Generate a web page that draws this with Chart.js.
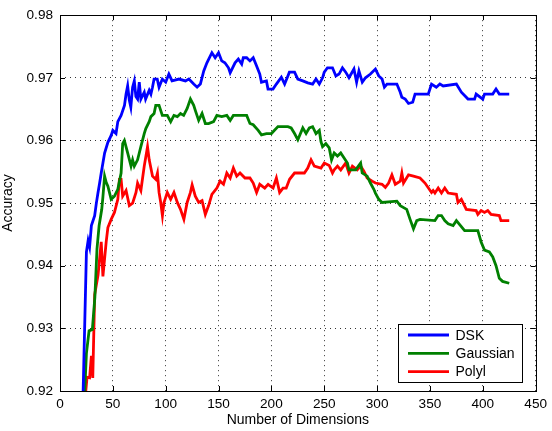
<!DOCTYPE html>
<html>
<head>
<meta charset="utf-8">
<script src="https://cdn.jsdelivr.net/npm/chart.js@4/dist/chart.umd.min.js"></script>
<style>
  html, body { margin: 0; padding: 0; background: #fff; }
  #wrap { width: 552px; height: 431px; }
</style>
</head>
<body>
<div id="wrap"><canvas id="accChart" width="552" height="431"></canvas></div>
<script>
// series labels
const seriesNames = ['DSK', 'Gaussian', 'Polyl'];

// DSK
const dskDims = [21.9, 23.4, 25, 26.6, 28, 29.7, 32.8, 34.4, 35.9, 37.5, 39, 40.6, 42.2, 45.3, 48.4, 50, 53, 54.7, 57.8, 61,
  62.5, 64, 65.6, 67, 68.7, 70.3, 71.8, 73.4, 75, 76.5, 79.7, 81, 84.4, 86, 87.5, 89, 92, 93.7, 96.8, 100,
  103, 106, 112.5, 118.7, 121.9, 126.5, 129.7, 132.8, 136, 139, 143.7, 146.8, 150, 153, 156, 159.4, 161, 165.6, 168.7, 171.9,
  173.4, 176.6, 179.7, 182.8, 186, 189, 190.6, 195.3, 196.8, 201.5, 204.7, 209.4, 212.5, 215.6, 217, 221.9, 225, 229.7, 234.4, 239,
  242.2, 245.3, 248.4, 250, 253, 257.8, 261, 264, 267.2, 270.3, 273.4, 278.1, 280.6, 282.8, 286, 289, 293.7, 298.4, 301.6, 304.7,
  306.9, 309.4, 318.7, 321.9, 323.4, 326.6, 329.7, 333.7, 335.9, 348.4, 351.5, 356, 359.4, 362.5, 375, 379.7, 386, 392.2, 393.7, 400,
  401.6, 409.4, 412.5, 415.6, 425];
const dskAcc = [0.920, 0.9307, 0.9422, 0.944, 0.943, 0.9464, 0.948, 0.950, 0.9516, 0.9532, 0.9548, 0.9564, 0.958, 0.9597, 0.9608, 0.9616, 0.9611, 0.963, 0.964, 0.9656,
  0.9674, 0.9687, 0.9664, 0.9653, 0.9685, 0.9695, 0.967, 0.9666, 0.9693, 0.9666, 0.9677, 0.9666, 0.968, 0.9674, 0.9685, 0.9698, 0.9698, 0.9685, 0.9698, 0.9693,
  0.9706, 0.9695, 0.9698, 0.9695, 0.9698, 0.969, 0.9685, 0.969, 0.9711, 0.9724, 0.974, 0.9732, 0.974, 0.9727, 0.9724, 0.9716, 0.9708, 0.9724, 0.973, 0.9722,
  0.9732, 0.9732, 0.9727, 0.9732, 0.9719, 0.9706, 0.9693, 0.9695, 0.9682, 0.9682, 0.969, 0.9701, 0.969, 0.9703, 0.9709, 0.9709, 0.9698, 0.9695, 0.9692, 0.969,
  0.9698, 0.969, 0.970, 0.9709, 0.9716, 0.9716, 0.9703, 0.9706, 0.9716, 0.9709, 0.970, 0.9714, 0.9693, 0.9711, 0.9693, 0.970, 0.9706, 0.9714, 0.9703, 0.9698,
  0.9685, 0.969, 0.969, 0.9677, 0.9669, 0.9666, 0.9659, 0.9661, 0.9674, 0.9674, 0.969, 0.9685, 0.969, 0.9687, 0.969, 0.9677, 0.9666, 0.9666, 0.9674, 0.9666,
  0.9674, 0.9674, 0.9682, 0.9674, 0.9674];

// Gaussian
const gaussDims = [23.4, 25, 27.5, 30.6, 33, 35, 37, 39.5, 40.6, 42.2, 43.7, 45.3, 48.4, 51.5, 54.7, 57.8, 59.3, 60.9, 64, 67.2,
  68.7, 70.3, 73.4, 76.5, 79.7, 81.2, 84.4, 86, 89, 90.6, 93.7, 96.8, 101.5, 104.7, 107.8, 111, 114, 117, 120.3, 123.4,
  126.5, 128, 131.2, 134.4, 137.5, 140.6, 145.3, 148.4, 153, 157.8, 161, 164, 176.6, 179.7, 182.8, 187.5, 190.6, 195.3, 200, 206.2,
  211, 215.6, 218.7, 221.9, 225, 229.7, 232.8, 235.9, 239, 242.2, 245.3, 246.9, 248.4, 251.5, 254.7, 256.9, 259.4, 262.5, 265.6, 271.9,
  273.4, 279.7, 284.4, 285.9, 290.6, 293.7, 296.9, 298.4, 301.6, 304.7, 318.7, 321.9, 328, 331.2, 334.4, 337.5, 340.6, 354.7, 357.8, 360.9,
  364, 367.2, 371.9, 375, 382.8, 395.3, 398.4, 401.6, 406.2, 409.4, 412.5, 415.6, 418.7, 425];
const gaussAcc = [0.920, 0.926, 0.9296, 0.9298, 0.935, 0.9427, 0.9464, 0.949, 0.951, 0.9543, 0.9533, 0.9527, 0.9506, 0.9511, 0.9522, 0.9548, 0.9595, 0.960, 0.958, 0.9559,
  0.9569, 0.9559, 0.9569, 0.959, 0.9611, 0.9619, 0.963, 0.9638, 0.9643, 0.9656, 0.9656, 0.964, 0.964, 0.963, 0.964, 0.9638, 0.9643, 0.964, 0.9651, 0.9666,
  0.9656, 0.9648, 0.9632, 0.9643, 0.9627, 0.9627, 0.963, 0.964, 0.9638, 0.964, 0.9632, 0.964, 0.964, 0.9627, 0.9625, 0.9616, 0.9609, 0.9611, 0.9611, 0.9622,
  0.9622, 0.9622, 0.962, 0.9611, 0.9601, 0.962, 0.9611, 0.962, 0.9622, 0.9611, 0.9616, 0.9598, 0.959, 0.9595, 0.9588, 0.9569, 0.958, 0.9575, 0.958, 0.9564,
  0.9553, 0.9553, 0.9564, 0.9548, 0.9543, 0.9532, 0.9522, 0.9516, 0.9506, 0.9501, 0.9503, 0.9496, 0.949, 0.9474, 0.9459, 0.9472, 0.9474, 0.9472, 0.948, 0.948,
  0.9472, 0.9467, 0.9464, 0.9472, 0.9456, 0.9456, 0.9438, 0.9425, 0.9422, 0.9414, 0.940, 0.938, 0.9375, 0.9372];

// Polyl
const polyDims = [24.4, 25.6, 28, 29.7, 31, 32.8, 36, 39, 40.6, 43.7, 45.3, 48.4, 51.5, 54.7, 56.2, 57.8, 59.3, 62.5, 65.6, 68.7,
  71.9, 73.4, 76.5, 79.7, 82.8, 84.4, 87.5, 90.6, 92.2, 93.7, 95.3, 96.9, 98.4, 101.5, 104.7, 107.8, 111, 114, 117.2, 120.3,
  123.4, 125, 128, 131.2, 134.4, 137.5, 140.6, 143.7, 148.4, 151.5, 154.7, 157.8, 161, 164, 167.2, 170.3, 175, 179.7, 182.8, 186,
  189, 193.7, 196.9, 201.6, 204.7, 207.8, 211, 214, 217.2, 221.9, 231.2, 234.4, 237.5, 240.6, 246.9, 250, 254.7, 257.8, 259.4, 262.5,
  265.6, 270.3, 273.4, 276.6, 281.2, 284.4, 287.5, 290.6, 295.3, 298.4, 304.7, 307.8, 310.9, 314, 317.2, 321.9, 323.4, 325, 329.7, 334.4,
  340.6, 345.3, 351.5, 353, 354.7, 357.8, 360.9, 364, 367.2, 375, 376.5, 379.7, 384.4, 393.7, 395.3, 398.4, 401.6, 404.7, 407.8, 415.6,
  417.2, 425];
const polyAcc = [0.920, 0.9222, 0.9221, 0.9256, 0.9221, 0.9354, 0.9385, 0.9438, 0.9383, 0.9438, 0.9461, 0.9474, 0.9485, 0.9506, 0.9538, 0.9538, 0.9511, 0.952, 0.9496, 0.950,
  0.9517, 0.9532, 0.952, 0.9559, 0.959, 0.9569, 0.9543, 0.9538, 0.9548, 0.9517, 0.9501, 0.948, 0.9501, 0.9517, 0.9506, 0.9517, 0.9501, 0.949, 0.9474, 0.9501,
  0.9517, 0.9529, 0.9511, 0.9501, 0.9504, 0.9482, 0.9496, 0.9514, 0.9524, 0.9535, 0.953, 0.9548, 0.954, 0.9556, 0.9543, 0.9548, 0.954, 0.954, 0.9532, 0.9517,
  0.953, 0.9524, 0.953, 0.9524, 0.954, 0.9517, 0.9524, 0.9524, 0.9538, 0.9548, 0.9548, 0.9556, 0.9569, 0.9559, 0.9556, 0.9564, 0.956, 0.9548, 0.9553, 0.9559,
  0.9553, 0.9564, 0.9548, 0.9559, 0.9553, 0.9559, 0.9551, 0.954, 0.9535, 0.9532, 0.953, 0.9525, 0.9532, 0.9545, 0.953, 0.9535, 0.9548, 0.9532, 0.9545, 0.9543,
  0.954, 0.9532, 0.9517, 0.952, 0.9516, 0.9524, 0.9516, 0.9524, 0.9516, 0.9514, 0.9501, 0.9506, 0.949, 0.9488, 0.9482, 0.9488, 0.9485, 0.9488, 0.9482, 0.948,
  0.9472, 0.9472];

// axis ticks
const xTicks = [0, 50, 100, 150, 200, 250, 300, 350, 400, 450];
const yTicks = [0.92, 0.93, 0.94, 0.95, 0.96, 0.97, 0.98];

const FONT = 'Liberation Sans, Arial, Helvetica, sans-serif';

function toPoints(xs, ys) {
    return xs.map((x, i) => ({ x: x, y: ys[i] }));
}

// MATLAB style frame, inner ticks and boxed legend
const matlabFrame = {
    id: 'matlabFrame',
    afterDraw(chart) {
        const ctx = chart.ctx;
        const a = chart.chartArea;
        const xs = chart.scales.x;
        const ys = chart.scales.y;
        ctx.save();
        ctx.strokeStyle = '#000';
        ctx.lineWidth = 1;
        ctx.beginPath();
        xTicks.forEach(t => {
            const px = Math.round(xs.getPixelForValue(t)) + 0.5;
            ctx.moveTo(px, a.bottom); ctx.lineTo(px, a.bottom - 5);
            ctx.moveTo(px, a.top); ctx.lineTo(px, a.top + 5);
        });
        yTicks.forEach(t => {
            const py = Math.round(ys.getPixelForValue(t)) + 0.5;
            ctx.moveTo(a.left, py); ctx.lineTo(a.left + 5, py);
            ctx.moveTo(a.right, py); ctx.lineTo(a.right - 5, py);
        });
        ctx.stroke();
        ctx.strokeRect(Math.round(a.left) + 0.5, Math.round(a.top) + 0.5,
            Math.round(a.right - a.left), Math.round(a.bottom - a.top));

        // legend
        const lx = 398.5, ly = 324.5, lw = 124, lh = 58;
        ctx.fillStyle = '#fff';
        ctx.fillRect(lx, ly, lw, lh);
        ctx.strokeRect(lx, ly, lw, lh);
        ctx.font = '14px ' + FONT;
        ctx.textBaseline = 'middle';
        chart.data.datasets.forEach((ds, i) => {
            const ry = 335 + i * 18.3;
            ctx.strokeStyle = ds.borderColor;
            ctx.lineWidth = 2.8;
            ctx.beginPath();
            ctx.moveTo(408, ry); ctx.lineTo(449, ry);
            ctx.stroke();
            ctx.fillStyle = '#000';
            ctx.fillText(ds.label, 455.5, ry + 1);
        });
        ctx.restore();
    }
};

var ctx = document.getElementById('accChart').getContext('2d');
var accChart = new Chart(ctx, {
    type: 'line',
    data: {
        datasets: [
            { label: seriesNames[0], data: toPoints(dskDims, dskAcc), borderColor: '#0000ff' },
            { label: seriesNames[1], data: toPoints(gaussDims, gaussAcc), borderColor: '#008000' },
            { label: seriesNames[2], data: toPoints(polyDims, polyAcc), borderColor: '#ff0000' }
        ].map(d => Object.assign(d, { borderWidth: 2.8, pointRadius: 0, fill: false, tension: 0 }))
    },
    options: {
        responsive: false,
        animation: false,
        layout: { padding: { top: 10, right: 12, left: 0, bottom: 0 } },
        plugins: { legend: { display: false }, tooltip: { enabled: false } },
        scales: {
            x: {
                type: 'linear', min: 0, max: 450,
                afterBuildTicks: s => { s.ticks = xTicks.map(v => ({ value: v })); },
                afterFit: s => { s.height = 40; },
                grid: { color: '#333', drawTicks: false, lineWidth: 1 },
                border: { display: false, dash: [1, 4] },
                ticks: { color: '#000', font: { family: FONT, size: 13.6 }, padding: 5, maxRotation: 0 },
                title: { display: true, text: 'Number of Dimensions', color: '#000', font: { family: FONT, size: 14 }, padding: { top: 0, bottom: 2 } }
            },
            y: {
                type: 'linear', min: 0.92, max: 0.98,
                afterBuildTicks: s => { s.ticks = yTicks.map(v => ({ value: v })); },
                afterFit: s => { s.width = 60; },
                grid: { color: '#333', drawTicks: false, lineWidth: 1 },
                border: { display: false, dash: [1, 4] },
                ticks: { color: '#000', font: { family: FONT, size: 13.6 }, padding: 7, callback: v => v.toFixed(2) },
                title: { display: true, text: 'Accuracy', color: '#000', font: { family: FONT, size: 14 }, padding: { top: 0, bottom: 2 } }
            }
        }
    },
    plugins: [matlabFrame]
});
</script>
</body>
</html>
